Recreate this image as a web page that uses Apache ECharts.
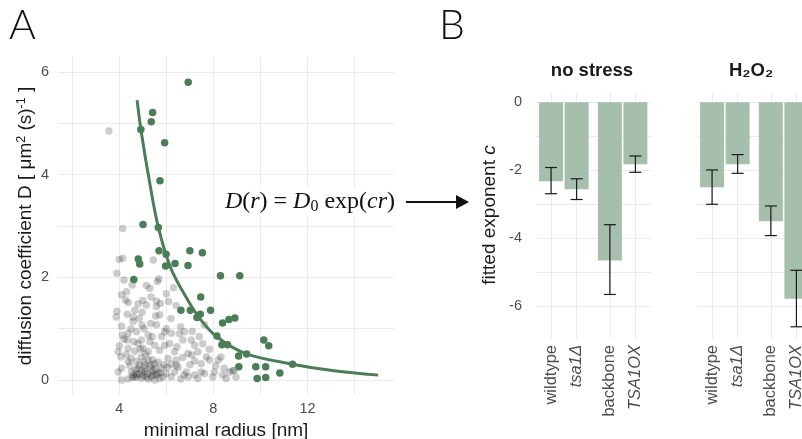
<!DOCTYPE html>
<html>
<head>
<meta charset="utf-8">
<script src="https://cdn.jsdelivr.net/npm/echarts@6/dist/echarts.min.js"></script>
<style>
html, body { margin: 0; padding: 0; background: #fff; }
#main { width: 802px; height: 439px; }
</style>
</head>
<body>
<div id="main"></div>
<script>
// panel A: all measured particles (grey)
var grayR = [4.15,4.15,5.45,3.90,5.68,5.62,5.15,5.30,6.30,4.10,4.31,4.27,4.38,4.80,5.15,5.58,5.75,6.10,6.42,5.58,
  3.90,3.87,4.34,4.59,4.66,4.97,5.72,5.34,5.58,4.97,4.59,4.13,4.38,4.34,4.73,4.94,5.23,5.30,5.93,6.21,
  6.61,6.77,6.70,7.06,7.20,7.62,7.55,7.34,7.08,7.83,8.32,4.01,3.96,4.07,4.38,4.66,4.80,5.01,5.23,5.51,
  5.72,5.93,6.14,6.35,6.42,6.07,6.70,6.92,7.20,7.48,7.83,8.21,8.46,8.82,8.39,7.97,7.62,7.20,6.85,6.61,
  6.35,6.00,5.79,5.51,5.23,4.94,4.73,4.38,4.10,3.96,4.10,4.38,4.66,4.94,5.23,5.51,5.72,4.52,4.80,5.08,
  5.37,5.65,5.86,6.21,4.73,4.59,4.87,5.15,5.37,5.58,5.08,5.30,5.44,6.21,6.42,6.92,7.34,7.48,8.04,8.54,
  8.68,8.96,8.88,4.70,4.85,5.00,5.10,5.20,5.40,5.55,5.65,4.45,4.55,4.75,4.95,5.05,5.35,5.45,5.75,5.90,
  6.05,4.30,4.50,4.62,4.90,5.12,5.40,5.80,6.00,6.45,6.55,7.00,7.10,7.40,7.70,8.10,6.75,6.50,4.20,4.10,
  4.50,4.85,5.00,5.35,5.55,6.20,6.00,4.55,4.00,4.20,5.05,3.56];
var grayD = [2.95,2.37,2.34,2.08,1.97,1.92,1.84,1.79,1.80,1.66,1.72,1.56,1.51,1.48,1.46,1.54,1.49,1.53,1.45,1.43,
  1.34,1.23,1.28,1.23,1.36,1.32,1.27,1.10,1.08,1.07,1.14,0.88,0.91,0.78,0.94,0.78,0.88,0.75,0.94,0.91,
  1.04,0.94,0.78,0.78,0.68,1.08,0.71,0.55,0.49,0.60,0.45,0.67,0.55,0.45,0.62,0.56,0.71,0.62,0.55,0.68,
  0.58,0.68,0.71,0.55,0.39,0.42,0.44,0.52,0.37,0.32,0.39,0.39,0.23,0.18,0.10,0.06,0.13,0.10,0.16,0.02,
  0.16,0.13,0.23,0.32,0.39,0.45,0.36,0.36,0.23,0.16,0.00,0.02,0.06,0.03,0.02,0.00,0.03,0.16,0.23,0.16,
  0.16,0.13,0.06,0.06,0.06,0.10,0.12,0.06,0.06,0.10,0.29,0.26,0.19,0.31,0.29,0.06,0.03,0.16,0.16,0.03,
  0.16,0.06,0.19,0.20,0.30,0.08,0.22,0.12,0.40,0.22,0.35,0.28,0.05,0.12,0.18,0.35,0.30,0.10,0.15,0.30,
  0.25,0.50,0.42,0.75,0.60,0.50,0.85,0.85,1.00,0.65,0.90,0.30,0.95,0.85,0.45,0.28,0.10,0.25,0.80,1.05,
  1.00,1.20,1.55,1.62,1.25,1.20,1.68,1.85,2.35,1.95,1.00,4.85];

// panel A: highlighted particles (green)
var greenR = [6.93,5.42,5.36,4.92,5.93,5.73,5.01,5.66,5.69,5.99,4.81,4.87,7.00,7.53,5.97,6.37,6.92,4.62,8.30,9.12,
  7.46,6.62,7.02,7.44,7.88,7.30,8.39,8.66,8.91,8.15,8.36,8.60,9.41,9.07,9.08,9.80,10.22,10.14,10.35,10.82,
  11.36,9.86,10.22];
var greenD = [5.80,5.21,5.03,4.88,4.62,3.88,3.03,2.97,2.52,2.45,2.36,2.26,2.52,2.48,2.22,2.27,2.23,1.96,2.03,2.03,
  1.62,1.36,1.36,1.28,1.36,1.22,1.11,1.18,1.21,0.86,0.69,0.69,0.51,0.47,0.26,0.26,0.26,0.78,0.67,0.14,
  0.31,0.03,0.05];

// panel A: fitted curve
var curveR = [4.76,4.92,5.28,5.66,6.20,6.91,7.47,8.15,9.41,11.36,13.12,15.0];
var curveD = [5.45,4.88,3.88,2.98,2.17,1.56,1.17,0.84,0.51,0.31,0.18,0.097];

var xTicksA = [2,4,6,8,10,12,14];
var xLabelsA = [4,8,12];
var yTicksA = [0,1,2,3,4,5,6];
var yLabelsA = [0,2,4,6];

// panel B: fitted exponent per strain
var strains = ['wildtype', 'tsa1Δ', 'backbone', 'TSA1OX'];
var strainItalic = [false, true, false, true];
var strainPos = [1, 2, 3.3, 4.3];
var noStress = [-2.32, -2.56, -4.65, -1.82];
var noStressLo = [-2.69, -2.86, -5.65, -2.06];
var noStressHi = [-1.92, -2.25, -3.60, -1.58];
var h2o2 = [-2.50, -1.82, -3.50, -5.78];
var h2o2Lo = [-3.00, -2.09, -3.92, -6.60];
var h2o2Hi = [-1.99, -1.54, -3.05, -4.94];
var yTicksB = [-6,-5,-4,-3,-2,-1,0];
var yLabelsB = [-6,-4,-2,0];

var green = '#4b7d57';
var barGreen = '#a6bfac';
var gridCol = '#ebebeb';
var tickCol = '#4d4d4d';
var titleCol = '#1a1a1a';
var font = 'Liberation Sans';

function zip(a, b) {
  return a.map(function (v, i) { return [v, b[i]]; });
}

function strainLabel(v) {
  for (var i = 0; i < strainPos.length; i++) {
    if (Math.abs(strainPos[i] - v) < 1e-6) {
      return strainItalic[i] ? '{it|' + strains[i] + '}' : strains[i];
    }
  }
  return '';
}

function facetX(gi) {
  return {
    type: 'value', gridIndex: gi, min: 0.41, max: 4.91,
    axisLine: { show: false },
    axisTick: { show: false, customValues: strainPos },
    splitLine: { show: true, lineStyle: { color: gridCol, width: 1 } },
    axisLabel: {
      customValues: strainPos, rotate: 90, margin: 7,
      color: tickCol, fontSize: 16.5, fontFamily: font,
      formatter: strainLabel,
      rich: { it: { fontStyle: 'italic', color: tickCol, fontSize: 16.5, fontFamily: font } }
    }
  };
}

function facetY(gi, showLabels) {
  return {
    type: 'value', gridIndex: gi, min: -6.93, max: 0.3,
    axisLine: { show: false },
    axisTick: { show: false, customValues: yTicksB },
    splitLine: { show: true, lineStyle: { color: gridCol, width: 1 } },
    axisLabel: {
      show: showLabels, customValues: yLabelsB, margin: 14,
      color: tickCol, fontSize: 14.5, fontFamily: font
    }
  };
}

function barSeries(gi, vals) {
  return {
    type: 'bar', xAxisIndex: gi, yAxisIndex: gi,
    data: zip(strainPos, vals),
    barWidth: 24,
    itemStyle: { color: barGreen },
    silent: true
  };
}

function errSeries(gi, lo, hi) {
  return {
    type: 'custom', xAxisIndex: gi, yAxisIndex: gi, z: 5,
    data: strainPos.map(function (p, i) { return [p, lo[i], hi[i]]; }),
    renderItem: function (params, api) {
      var a = api.coord([api.value(0), api.value(1)]);
      var b = api.coord([api.value(0), api.value(2)]);
      var w = 6;
      var st = { stroke: '#1a1a1a', lineWidth: 1.2 };
      return {
        type: 'group',
        children: [
          { type: 'line', shape: { x1: a[0], y1: a[1], x2: b[0], y2: b[1] }, style: st },
          { type: 'line', shape: { x1: a[0] - w, y1: a[1], x2: a[0] + w, y2: a[1] }, style: st },
          { type: 'line', shape: { x1: b[0] - w, y1: b[1], x2: b[0] + w, y2: b[1] }, style: st }
        ]
      };
    }
  };
}

var chart = echarts.init(document.getElementById('main'), null, { renderer: 'canvas' });

var option = {
  animation: false,
  backgroundColor: '#fff',
  textStyle: { fontFamily: font },
  grid: [
    { left: 58, top: 57, width: 336, height: 338, outerBoundsMode: 'none' },
    { left: 536, top: 92, width: 115, height: 246, outerBoundsMode: 'none' },
    { left: 697, top: 92, width: 115, height: 246, outerBoundsMode: 'none' }
  ],
  xAxis: [
    {
      type: 'value', gridIndex: 0, min: 1.4, max: 15.67,
      axisLine: { show: false },
      axisTick: { show: false, customValues: xTicksA },
      splitLine: { show: true, lineStyle: { color: gridCol, width: 1 } },
      axisLabel: { customValues: xLabelsA, color: tickCol, fontSize: 14.5, margin: 6 },
      name: 'minimal radius [nm]', nameLocation: 'middle', nameGap: 24,
      nameTextStyle: { fontSize: 19, color: titleCol, fontFamily: font }
    },
    facetX(1),
    facetX(2)
  ],
  yAxis: [
    {
      type: 'value', gridIndex: 0, min: -0.29, max: 6.29,
      axisLine: { show: false },
      axisTick: { show: false, customValues: yTicksA },
      splitLine: { show: true, lineStyle: { color: gridCol, width: 1 } },
      axisLabel: { customValues: yLabelsA, color: tickCol, fontSize: 14.5, margin: 9 },
      name: 'diffusion coefficient D [ μm{sup|2} (s){sup|-1} ]',
      nameLocation: 'middle', nameGap: 21,
      nameTextStyle: {
        fontSize: 19, color: titleCol, fontFamily: font, lineHeight: 22,
        rich: { sup: { fontSize: 12.5, color: titleCol, fontFamily: font, verticalAlign: 'top', lineHeight: 22 } }
      }
    },
    facetY(1, true),
    facetY(2, false)
  ],
  series: [
    {
      type: 'scatter', xAxisIndex: 0, yAxisIndex: 0,
      data: zip(grayR, grayD), symbolSize: 7.5,
      itemStyle: { color: 'rgba(0,0,0,0.25)' }, silent: true
    },
    {
      type: 'scatter', xAxisIndex: 0, yAxisIndex: 0,
      data: zip(greenR, greenD), symbolSize: 7.5,
      itemStyle: { color: green, opacity: 1 }, silent: true
    },
    {
      type: 'line', xAxisIndex: 0, yAxisIndex: 0,
      data: zip(curveR, curveD), smooth: 0.35, showSymbol: false,
      lineStyle: { color: green, width: 3 }, silent: true, z: 4
    },
    barSeries(1, noStress),
    errSeries(1, noStressLo, noStressHi),
    barSeries(2, h2o2),
    errSeries(2, h2o2Lo, h2o2Hi)
  ],
  graphic: [
    { type: 'text', left: 9, top: 5, style: { text: 'A', fontSize: 41, fontFamily: 'Lato', fontWeight: 300, fill: '#111' } },
    { type: 'text', left: 439, top: 5, style: { text: 'B', fontSize: 41, fontFamily: 'Lato', fontWeight: 300, fill: '#111' } },
    { type: 'text', x: 592, y: 71, style: { text: 'no stress', fontSize: 18.5, fontWeight: 'bold', fontFamily: font, fill: titleCol, align: 'center', verticalAlign: 'middle' } },
    { type: 'text', x: 751, y: 71, style: { text: 'H₂O₂', fontSize: 18.5, fontWeight: 'bold', fontFamily: font, fill: titleCol, align: 'center', verticalAlign: 'middle' } },
    {
      type: 'text', x: 490, y: 215, rotation: Math.PI / 2,
      style: {
        text: 'fitted exponent {it|c}', align: 'center', verticalAlign: 'middle',
        fontSize: 19, fontFamily: font, fill: titleCol,
        rich: { it: { fontStyle: 'italic', fontSize: 19, fontFamily: font, fill: titleCol } }
      }
    },
    {
      type: 'text', x: 310, y: 202, z: 20,
      style: {
        text: '{i|D}({i|r}) = {i|D}{s|0} exp({i|cr})',
        align: 'center', verticalAlign: 'middle',
        fontSize: 24, fontFamily: 'Liberation Serif', fill: '#111',
        backgroundColor: '#fff', padding: [2, 3],
        rich: {
          i: { fontStyle: 'italic', fontSize: 24, fontFamily: 'Liberation Serif', fill: '#111' },
          s: { fontSize: 16, fontFamily: 'Liberation Serif', fill: '#111', verticalAlign: 'bottom', padding: [9, 0, 0, 0] }
        }
      }
    },
    { type: 'line', z: 20, shape: { x1: 406, y1: 202, x2: 458, y2: 202 }, style: { stroke: '#111', lineWidth: 1.8 } },
    { type: 'polygon', z: 20, shape: { points: [[456, 195], [469, 202], [456, 209]] }, style: { fill: '#111' } }
  ]
};

chart.setOption(option);
</script>
</body>
</html>
